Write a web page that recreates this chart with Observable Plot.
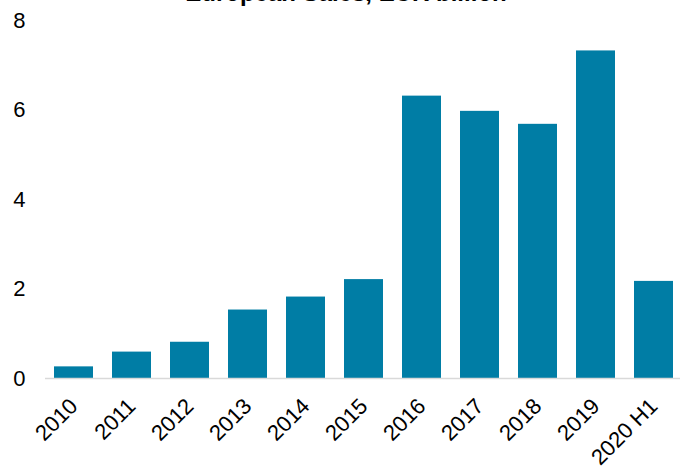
<!DOCTYPE html>
<html>
<head>
<meta charset="utf-8">
<script src="https://cdn.jsdelivr.net/npm/d3@7"></script>
<script src="https://cdn.jsdelivr.net/npm/@observablehq/plot@0.6"></script>
<style>
  html, body { margin: 0; padding: 0; background: #fff; overflow: hidden; }
  #wrap { position: relative; width: 680px; height: 469px; }
  #title { position: absolute; left: 0; width: 692px; top: -19px; text-align: center;
           font: bold 24px "Liberation Sans", Arial, sans-serif; line-height: 24px; color: #000; }
</style>
</head>
<body>
<div id="wrap">
  <div id="chart"></div>
  <div id="title">European Sales, EUR billion</div>
</div>
<script>
const categories = ["2010","2011","2012","2013","2014","2015","2016","2017","2018","2019","2020 H1"];
const sales = [0.26, 0.59, 0.81, 1.53, 1.82, 2.21, 6.31, 5.97, 5.68, 7.32, 2.17];
const yTicks = [0, 2, 4, 6, 8];

const data = categories.map((c, i) => ({year: c, value: sales[i]}));

const chart = Plot.plot({
  width: 680,
  height: 469,
  marginLeft: 45,
  marginRight: 0,
  marginTop: 20,
  marginBottom: 91,
  style: {fontFamily: "'Liberation Sans', Arial, sans-serif", fontSize: "22px", color: "#000", background: "#fff", overflow: "visible"},
  x: {domain: categories, range: [44.5, 683], paddingInner: 0.33, paddingOuter: 0.165, label: null},
  y: {domain: [0, 8], label: null},
  marks: [
    Plot.barY(data, {x: "year", y: "value", fill: "#007DA5"}),
    Plot.ruleY([0], {stroke: "#d9d9d9", strokeWidth: 1.5}),
    Plot.axisY(yTicks, {tickSize: 0, tickPadding: 20, fontSize: 22, label: null}),
    Plot.axisX({tickSize: 0, tickRotate: -45, tickPadding: 24, fontSize: 22, label: null})
  ]
});
document.getElementById("chart").appendChild(chart);
</script>
</body>
</html>
